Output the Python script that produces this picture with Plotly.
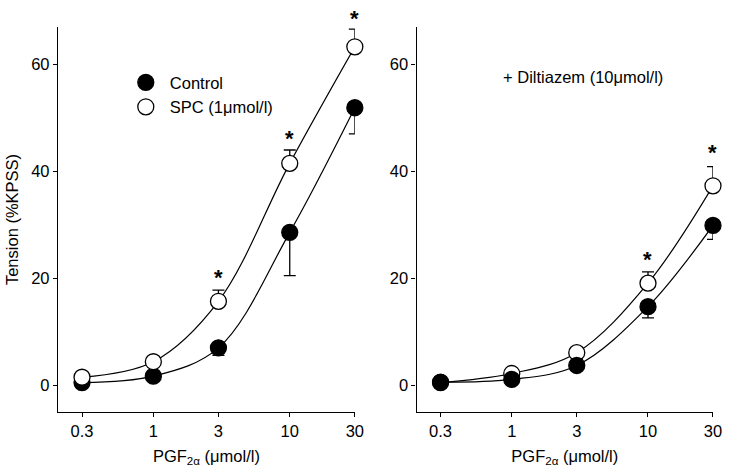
import math
import plotly.graph_objects as go

# ---- data ----
conc = [0.3, 1, 3, 10, 30]
tick_labels = ["0.3", "1", "3", "10", "30"]
y_ticks = [0, 20, 40, 60]
y_range = [-5, 67]

# Left panel: PGF2a alone
ctrl_left = [0.5, 1.7, 7.0, 28.6, 51.9]
ctrl_left_sem = [0, 0, 1.4, 8.1, 4.9]
spc_left = [1.5, 4.4, 15.7, 41.5, 63.3]
spc_left_sem = [0, 0, 2.1, 2.5, 3.3]
star_left_x = [3, 10, 30]
star_left_y = [21.1, 47.1, 69.6]

# Right panel: + Diltiazem (10 umol/l)
ctrl_right = [0.6, 1.1, 3.7, 14.7, 29.9]
ctrl_right_sem = [0, 0, 0, 2.1, 2.6]
spc_right = [0.5, 2.2, 6.1, 19.1, 37.3]
spc_right_sem = [0, 0, 0, 2.1, 3.6]
star_right_x = [10, 30]
star_right_y = [24.4, 44.4]

FONT = "Liberation Sans, Arial, sans-serif"
FS = 16.5

fig = go.Figure()


def add_curve(x, y, xa, ya):
    fig.add_trace(go.Scatter(
        x=x, y=y, mode="lines", line=dict(color="black", width=1.2, shape="spline", smoothing=1.0),
        xaxis=xa, yaxis=ya, showlegend=False, hoverinfo="skip", cliponaxis=False))


def add_markers(x, y, sem, filled, up, xa, ya, name, showlegend):
    zeros = [0] * len(sem)
    err = dict(type="data", symmetric=False, array=sem if up else zeros,
               arrayminus=zeros if up else sem, color="black", thickness=1.3, width=6)
    fig.add_trace(go.Scatter(
        x=x, y=y, mode="markers", name=name, showlegend=showlegend,
        marker=dict(size=16, color="black" if filled else "white", symbol="circle",
                    line=dict(color="black", width=1.3)),
        error_y=err, xaxis=xa, yaxis=ya, cliponaxis=False))


# curves
add_curve(conc, ctrl_left, "x", "y")
add_curve(conc, spc_left, "x", "y")
add_curve(conc, ctrl_right, "x2", "y2")
add_curve(conc, spc_right, "x2", "y2")

# markers: left control below SPC; right SPC below control
add_markers(conc, ctrl_left, ctrl_left_sem, True, False, "x", "y", "Control", True)
add_markers(conc, spc_left, spc_left_sem, False, True, "x", "y", "SPC (1\u03bcmol/l)", True)
add_markers(conc, spc_right, spc_right_sem, False, True, "x2", "y2", "SPC", False)
add_markers(conc, ctrl_right, ctrl_right_sem, True, False, "x2", "y2", "Control", False)


def ydom(v):
    return (v - y_range[0]) / (y_range[1] - y_range[0])


annotations = []
for sx, sy in zip(star_left_x, star_left_y):
    annotations.append(dict(x=math.log10(sx), y=ydom(sy), xref="x", yref="y domain", text="<b>*</b>",
                            xanchor="center", yanchor="middle",
                            showarrow=False, font=dict(size=22, family=FONT, color="black"), yshift=-5))
for sx, sy in zip(star_right_x, star_right_y):
    annotations.append(dict(x=math.log10(sx), y=ydom(sy), xref="x2", yref="y2 domain", text="<b>*</b>",
                            xanchor="center", yanchor="middle",
                            showarrow=False, font=dict(size=22, family=FONT, color="black"), yshift=-5))
annotations.append(dict(x=0.56, y=57.6, xref="x2 domain", yref="y2", text="+ Diltiazem (10\u03bcmol/l)",
                        xanchor="center", yanchor="middle",
                        showarrow=False, font=dict(size=FS, family=FONT, color="black")))

axis_common = dict(
    type="log", range=[-0.69897, 1.4772], tickvals=conc, ticktext=tick_labels,
    showline=True, linecolor="black", linewidth=1.3, ticks="outside", ticklen=4,
    tickwidth=1.3, tickcolor="black", showgrid=False, zeroline=False, automargin=False,
    tickfont=dict(size=FS, family=FONT, color="black"),
    title=dict(text="PGF<sub>2\u03b1</sub> (\u03bcmol/l)", font=dict(size=FS, family=FONT, color="black"),
               standoff=11),
)
yaxis_common = dict(
    range=y_range, tickvals=y_ticks, showline=True, linecolor="black", linewidth=1.3,
    ticks="outside", ticklen=4, tickwidth=1.3, tickcolor="black", showgrid=False, zeroline=False,
    automargin=False, tickfont=dict(size=FS, family=FONT, color="black"),
)

fig.update_layout(
    width=733, height=474,
    margin=dict(l=58, r=20, t=27, b=62),
    paper_bgcolor="white", plot_bgcolor="white",
    font=dict(family=FONT, color="black"),
    xaxis=dict(domain=[0, 0.4532], anchor="y", **axis_common),
    xaxis2=dict(domain=[0.5474, 1], anchor="y2", **axis_common),
    yaxis=dict(anchor="x", title=dict(text="Tension (%KPSS)", font=dict(size=FS, family=FONT, color="black"),
                                      standoff=8), **yaxis_common),
    yaxis2=dict(anchor="x2", **yaxis_common),
    legend=dict(x=0.0974, y=0.901, xanchor="left", yanchor="top", bgcolor="rgba(0,0,0,0)",
                font=dict(size=FS, family=FONT, color="black"), itemsizing="trace", itemwidth=38),
    annotations=annotations,
)

fig.write_html("out.html", config={"displayModeBar": False},
               post_script="document.body.style.margin='0';")
